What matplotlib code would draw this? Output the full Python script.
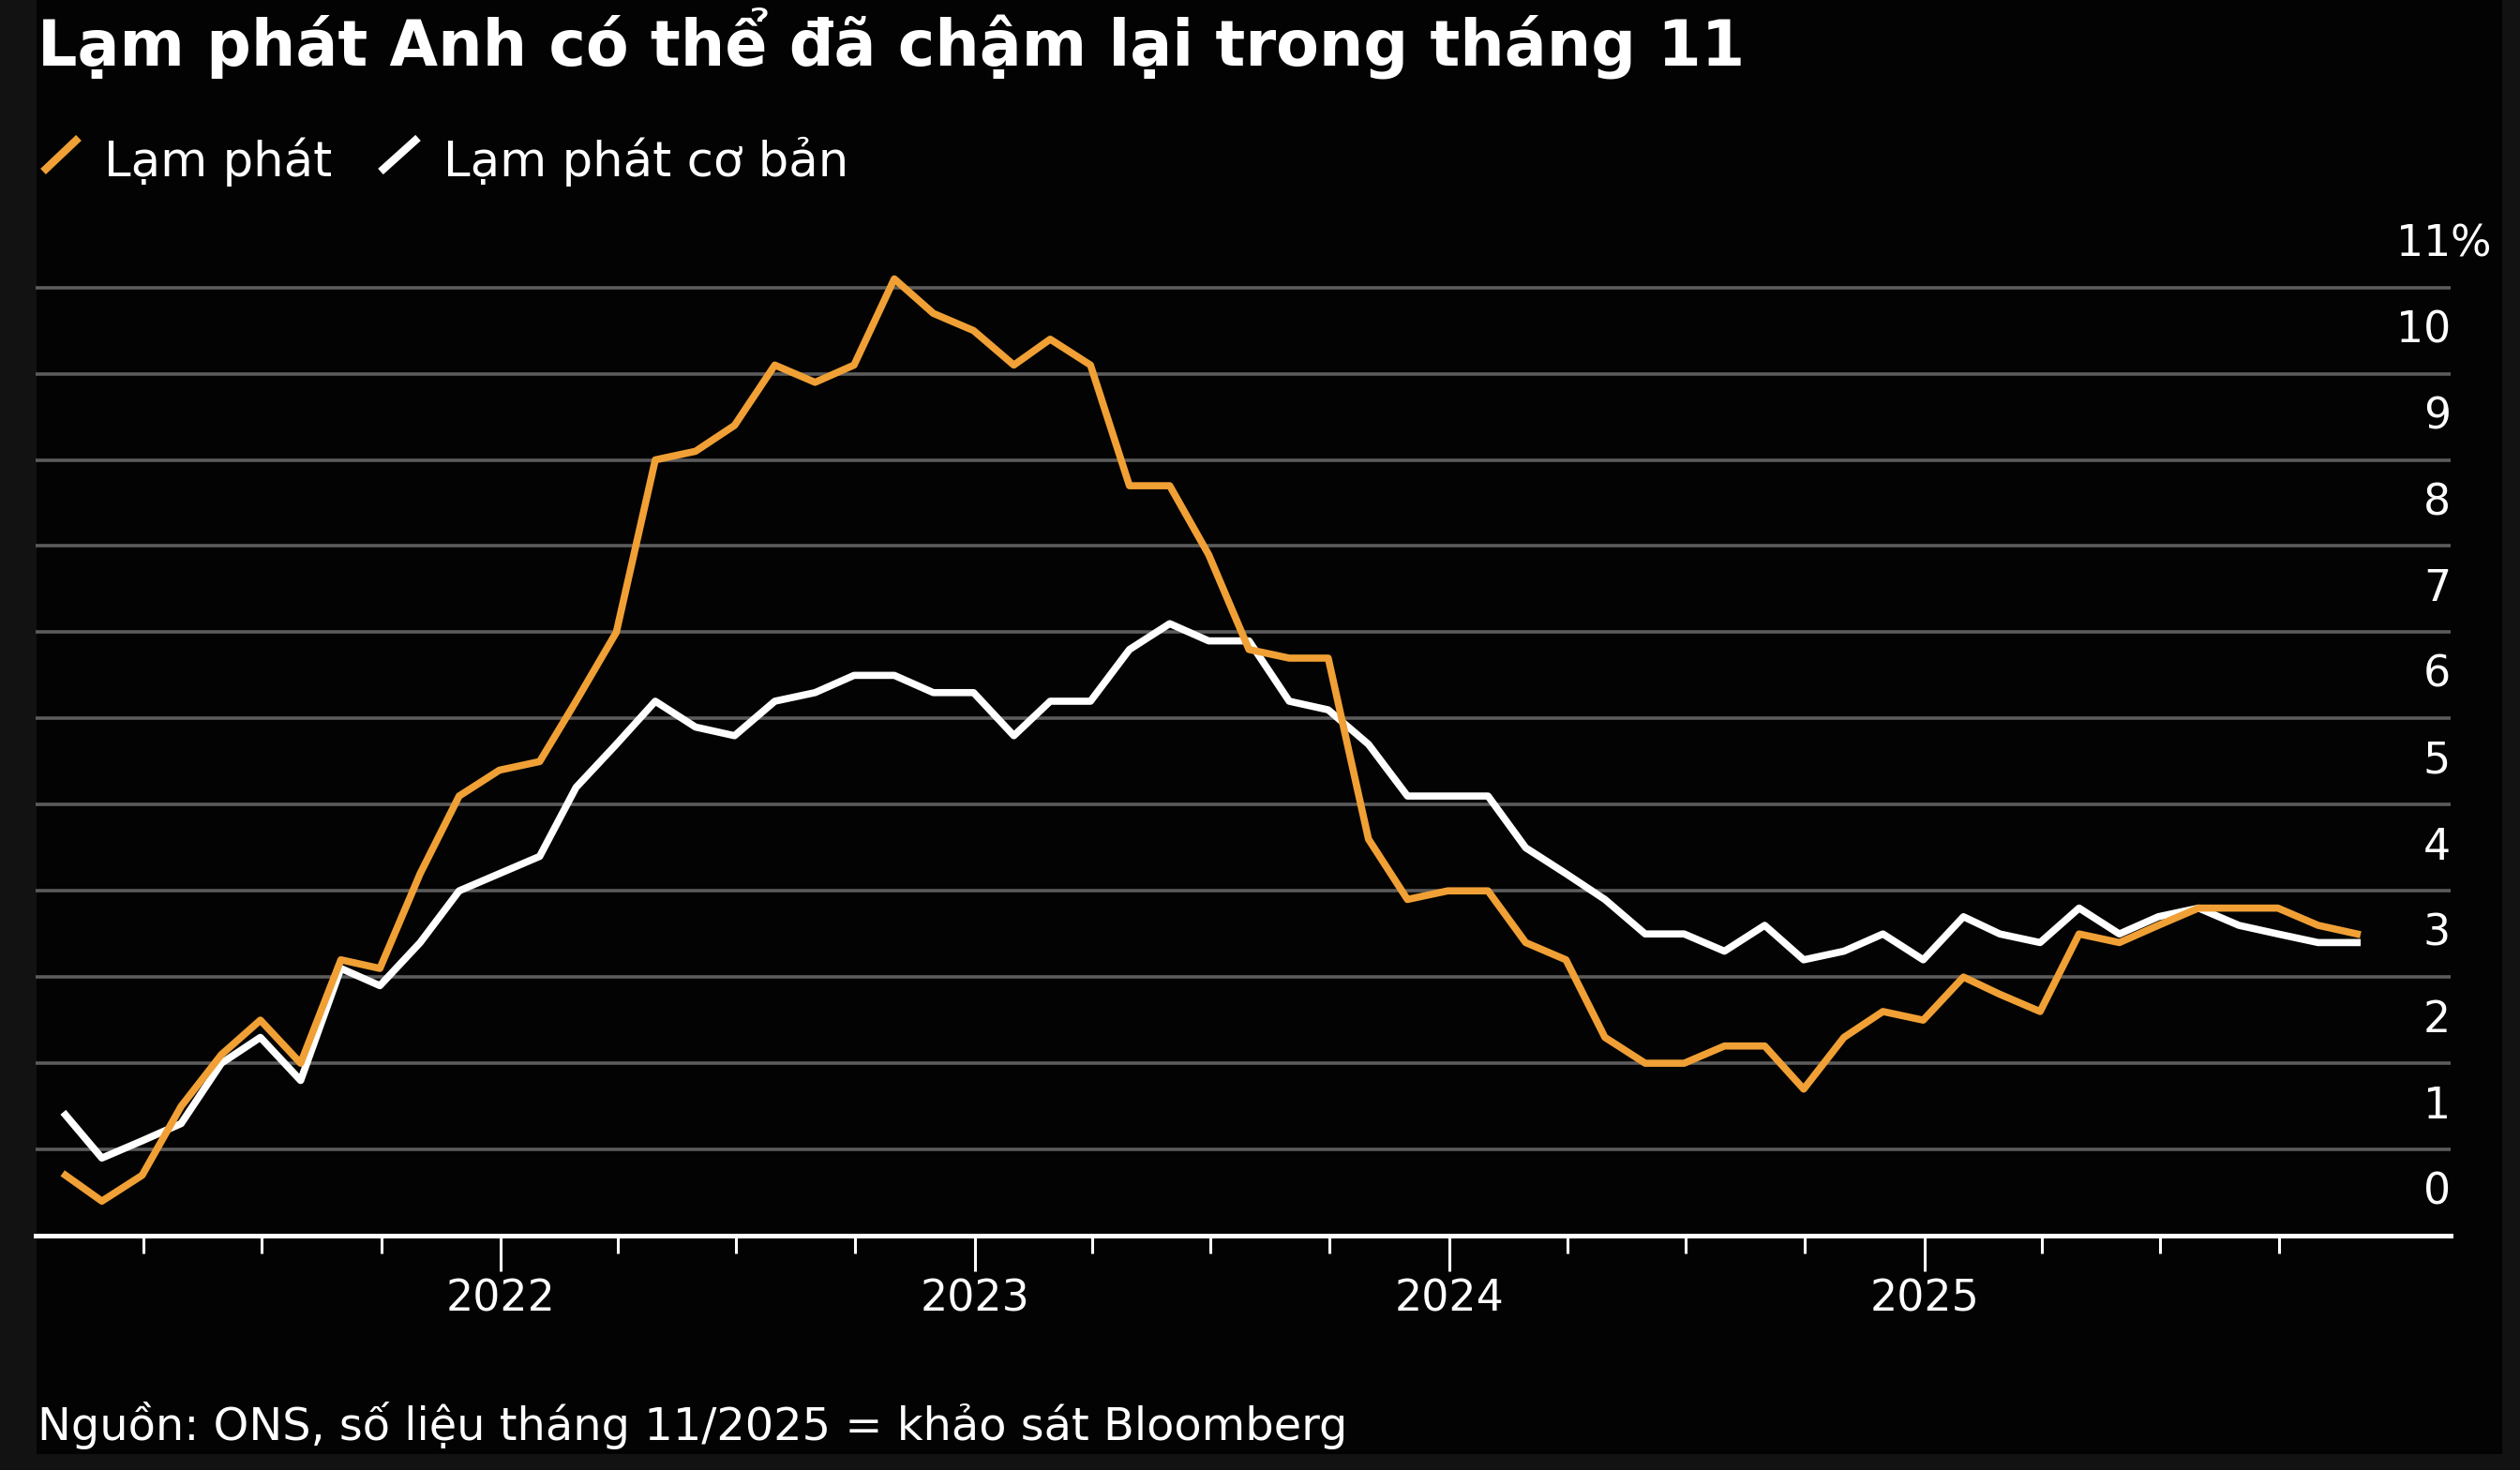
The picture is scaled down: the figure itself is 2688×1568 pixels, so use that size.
import matplotlib
matplotlib.use("Agg")
import matplotlib.pyplot as plt
import matplotlib.dates as mdates
from matplotlib.lines import Line2D
from matplotlib.patches import Rectangle
import pandas as pd

# ---------------- data ----------------
title = "Lạm phát Anh có thể đã chậm lại trong tháng 11"
legend_labels = ["Lạm phát", "Lạm phát cơ bản"]
source = "Nguồn: ONS, số liệu tháng 11/2025 = khảo sát Bloomberg"

months = pd.date_range("2021-01-31", "2025-11-30", freq="ME")

cpi = [0.7, 0.4, 0.7, 1.5, 2.1, 2.5, 2.0, 3.2, 3.1, 4.2, 5.1, 5.4,
       5.5, 6.2, 7.0, 9.0, 9.1, 9.4, 10.1, 9.9, 10.1, 11.1, 10.7, 10.5,
       10.1, 10.4, 10.1, 8.7, 8.7, 7.9, 6.8, 6.7, 6.7, 4.6, 3.9, 4.0,
       4.0, 3.4, 3.2, 2.3, 2.0, 2.0, 2.2, 2.2, 1.7, 2.3, 2.6, 2.5,
       3.0, 2.8, 2.6, 3.5, 3.4, 3.6, 3.8, 3.8, 3.8, 3.6, 3.5]

core = [1.4, 0.9, 1.1, 1.3, 2.0, 2.3, 1.8, 3.1, 2.9, 3.4, 4.0, 4.2,
        4.4, 5.2, 5.7, 6.2, 5.9, 5.8, 6.2, 6.3, 6.5, 6.5, 6.3, 6.3,
        5.8, 6.2, 6.2, 6.8, 7.1, 6.9, 6.9, 6.2, 6.1, 5.7, 5.1, 5.1,
        5.1, 4.5, 4.2, 3.9, 3.5, 3.5, 3.3, 3.6, 3.2, 3.3, 3.5, 3.2,
        3.7, 3.5, 3.4, 3.8, 3.5, 3.7, 3.8, 3.6, 3.5, 3.4, 3.4]

year_ticks = ["2022-01-01", "2023-01-01", "2024-01-01", "2025-01-01"]
year_labels = ["2022", "2023", "2024", "2025"]
quarter_ticks = ["2021-04-01", "2021-07-01", "2021-10-01",
                 "2022-04-01", "2022-07-01", "2022-10-01",
                 "2023-04-01", "2023-07-01", "2023-10-01",
                 "2024-04-01", "2024-07-01", "2024-10-01",
                 "2025-04-01", "2025-07-01", "2025-10-01"]
y_values = list(range(0, 12))
y_labels = [str(v) for v in y_values]
y_unit = "%"
x_range = ["2021-01-08", "2026-02-10"]
y_range = [0, 12]

# ---------------- style ----------------
W, H = 2688, 1568
ORANGE = "#F0A035"
WHITE = "#FFFFFF"
GRID = "#5c5c5c"
BG = "#030303"
EDGE = "#121212"
FONT = "DejaVu Sans"
plt.rcParams["font.family"] = [FONT]

fig = plt.figure(figsize=(W / 100, H / 100), dpi=100)
fig.patch.set_facecolor(EDGE)
fig.add_artist(Rectangle((39 / W, 17 / H), (2669 - 39) / W, 1551 / H,
                         transform=fig.transFigure, facecolor=BG,
                         edgecolor="none", zorder=-5))

ax_left, ax_right, ax_base = 38, 2614, 1318
unit_px = 91.94
ax = fig.add_axes([ax_left / W, (H - ax_base) / H,
                   (ax_right - ax_left) / W, y_range[1] * unit_px / H])
ax.set_facecolor("none")

ax.plot(months, core, color=WHITE, lw=5.5, zorder=3)
ax.plot(months, cpi, color=ORANGE, lw=5.5, zorder=4)

ax.set_xlim(pd.Timestamp(x_range[0]), pd.Timestamp(x_range[1]))
ax.set_ylim(*y_range)

for s in ["top", "left", "right"]:
    ax.spines[s].set_visible(False)
ax.spines["bottom"].set_color(WHITE)
ax.spines["bottom"].set_linewidth(3.6)
ax.spines["bottom"].set_zorder(5)

ax.set_xticks([mdates.date2num(pd.Timestamp(d)) for d in year_ticks])
ax.set_xticklabels(year_labels)
ax.set_xticks([mdates.date2num(pd.Timestamp(d)) for d in quarter_ticks], minor=True)
ax.tick_params(axis="x", which="major", length=27, width=2.2, color=WHITE,
               labelsize=33, labelcolor=WHITE, pad=6)
ax.tick_params(axis="x", which="minor", length=14, width=2.2, color=WHITE)

ax.set_yticks(y_values)
ax.set_yticklabels([])
ax.tick_params(axis="y", length=0)
ax.yaxis.grid(True, color=GRID, lw=2.6)
ax.set_axisbelow(True)

ytrans = ax.get_yaxis_transform()
for v, lab in zip(y_values, y_labels):
    ax.text(1.0, v + 0.5, lab, transform=ytrans, ha="right", va="center",
            fontsize=33, color=WHITE)
ax.text(1.0, y_values[-1] + 0.5, y_unit, transform=ytrans, ha="left",
        va="center", fontsize=33, color=WHITE)

# title
fig.text(40 / W, 1 - 70 / H, title, fontsize=48, fontweight="bold",
         color=WHITE, ha="left", va="baseline")

# legend
def slash(x0, y0, x1, y1, color):
    fig.add_artist(Line2D([x0 / W, x1 / W], [1 - y0 / H, 1 - y1 / H],
                          transform=fig.transFigure, color=color, lw=6,
                          solid_capstyle="butt"))

slash(46, 183, 84, 147, ORANGE)
fig.text(111 / W, 1 - 188 / H, legend_labels[0], fontsize=37, color=WHITE,
         ha="left", va="baseline")
slash(406, 183, 446, 147, WHITE)
fig.text(473 / W, 1 - 188 / H, legend_labels[1], fontsize=37, color=WHITE,
         ha="left", va="baseline")

# source
fig.text(40 / W, 1 - 1536 / H, source, fontsize=34.5, color=WHITE,
         ha="left", va="baseline")

fig.savefig("out.png", dpi=100, facecolor=fig.get_facecolor())
